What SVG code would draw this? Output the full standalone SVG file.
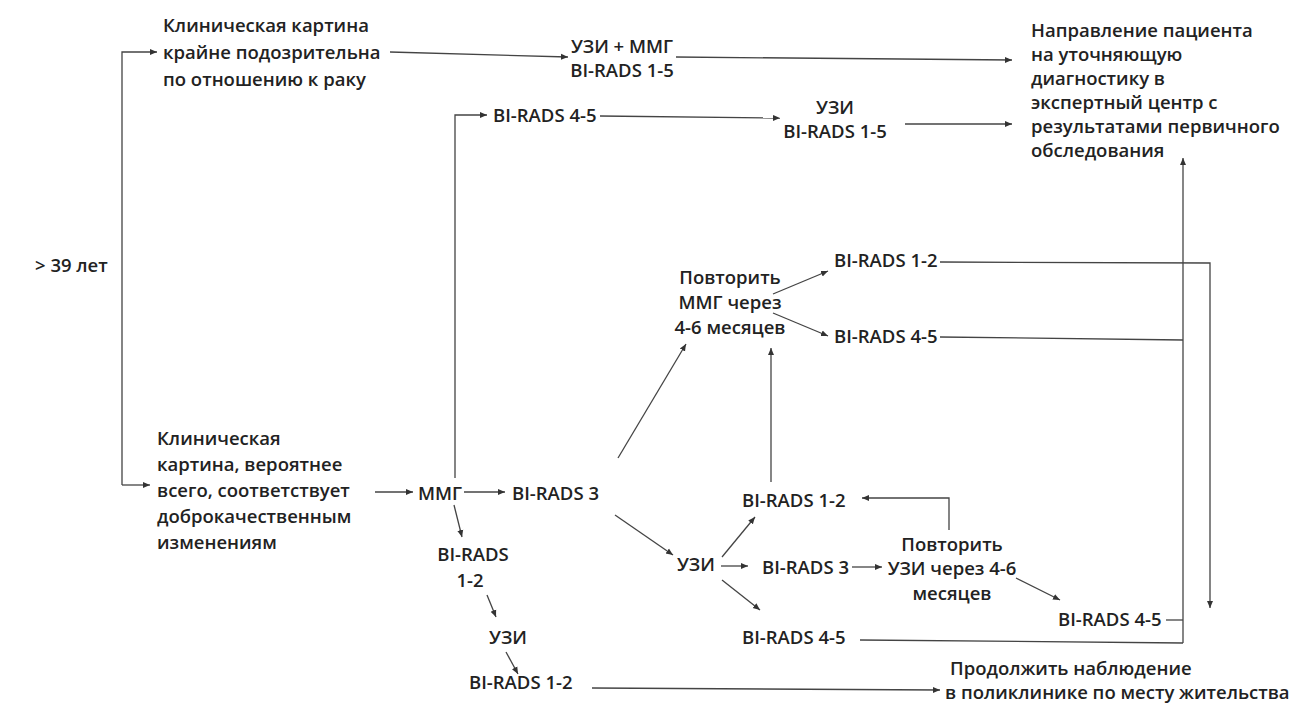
<svg xmlns="http://www.w3.org/2000/svg" width="1300" height="710" viewBox="0 0 1300 710">
<defs>
<marker id="ah" markerWidth="8" markerHeight="8" refX="7" refY="4" orient="auto" markerUnits="userSpaceOnUse">
<path d="M0,1 L7,4 L0,7 Z" fill="#333"/>
</marker>
<style>
text{font-family:"Open Sans","Liberation Sans",sans-serif;font-size:18.5px;font-weight:600;fill:#222}
.c{stroke:#444;stroke-width:1.3;fill:none}
.a{marker-end:url(#ah)}
</style>
</defs>
<rect width="1300" height="710" fill="#fff"/>
<g id="connectors">
<path class="c a" d="M122,485 L122,52 L157,52"/>
<path class="c a" d="M122,485 L150,485"/>
<path class="c a" d="M390,52 L568,57"/>
<path class="c a" d="M676,57 L1012,60"/>
<path class="c a" d="M455,478 L455,115 L487,115"/>
<path class="c a" d="M600,116 L780,118"/>
<path class="c a" d="M905,124 L1012,124"/>
<path class="c a" d="M1183,643 L1183,158"/>
<path class="c a" d="M940,262 L1210,263 L1210,608"/>
<path class="c" d="M940,337 L1183,340"/>
<path class="c a" d="M773,294 L828,271"/>
<path class="c a" d="M773,313 L828,336"/>
<path class="c a" d="M618,458 L686,344"/>
<path class="c a" d="M771,482 L771,348"/>
<path class="c a" d="M375,492 L413,492"/>
<path class="c a" d="M464,492 L505,492"/>
<path class="c a" d="M454,505 L462,537"/>
<path class="c a" d="M487,595 L496,617"/>
<path class="c a" d="M506,652 L518,674"/>
<path class="c a" d="M592,688 L940,690"/>
<path class="c a" d="M615,515 L673,555"/>
<path class="c a" d="M722,557 L755,517"/>
<path class="c a" d="M721,566 L748,566"/>
<path class="c a" d="M722,580 L760,610"/>
<path class="c a" d="M852,567 L882,567"/>
<path class="c a" d="M949,530 L949,498 L862,498"/>
<path class="c a" d="M1016,578 L1060,600"/>
<path class="c" d="M1166,620 L1183,620"/>
<path class="c" d="M860,640 L1183,643"/>
</g>
<g id="age"><text x="35" y="272">&gt; 39 лет</text></g>
<g id="suspicious">
<text x="163" y="32">Клиническая картина</text>
<text x="163" y="59">крайне подозрительна</text>
<text x="163" y="86">по отношению к раку</text>
</g>
<g id="us-mmg-15">
<text x="622" y="53" text-anchor="middle">УЗИ + ММГ</text>
<text x="622" y="77" text-anchor="middle">BI-RADS 1-5</text>
</g>
<g id="referral">
<text x="1031" y="37">Направление пациента</text>
<text x="1031" y="61">на уточняющую</text>
<text x="1031" y="85">диагностику в</text>
<text x="1031" y="109">экспертный центр с</text>
<text x="1031" y="133">результатами первичного</text>
<text x="1031" y="157">обследования</text>
</g>
<g id="benign">
<text x="157" y="445">Клиническая</text>
<text x="157" y="471">картина, вероятнее</text>
<text x="157" y="497">всего, соответствует</text>
<text x="157" y="523">доброкачественным</text>
<text x="157" y="549">изменениям</text>
</g>
<g id="mmg"><text x="418" y="500">ММГ</text></g>
<g id="br45-a"><text x="493" y="122">BI-RADS 4-5</text></g>
<g id="us-15">
<text x="835" y="114" text-anchor="middle">УЗИ</text>
<text x="835" y="138" text-anchor="middle">BI-RADS 1-5</text>
</g>
<g id="br3-a"><text x="512" y="500">BI-RADS 3</text></g>
<g id="br12-a">
<text x="473" y="561" text-anchor="middle">BI-RADS</text>
<text x="470" y="587" text-anchor="middle">1-2</text>
</g>
<g id="us-a"><text x="508" y="644" text-anchor="middle">УЗИ</text></g>
<g id="br12-b"><text x="469" y="689">BI-RADS 1-2</text></g>
<g id="repeat-mmg">
<text x="730" y="284" text-anchor="middle">Повторить</text>
<text x="730" y="309" text-anchor="middle">ММГ через</text>
<text x="730" y="334" text-anchor="middle">4-6 месяцев</text>
</g>
<g id="br12-c"><text x="834" y="267">BI-RADS 1-2</text></g>
<g id="br45-b"><text x="834" y="343">BI-RADS 4-5</text></g>
<g id="us-b"><text x="677" y="571">УЗИ</text></g>
<g id="br12-d"><text x="742" y="507">BI-RADS 1-2</text></g>
<g id="br3-b"><text x="762" y="574">BI-RADS 3</text></g>
<g id="br45-c"><text x="742" y="644">BI-RADS 4-5</text></g>
<g id="repeat-us">
<text x="952" y="551" text-anchor="middle">Повторить</text>
<text x="952" y="575" text-anchor="middle">УЗИ через 4-6</text>
<text x="952" y="600" text-anchor="middle">месяцев</text>
</g>
<g id="br45-d"><text x="1058" y="626">BI-RADS 4-5</text></g>
<g id="continue">
<text x="950" y="675">Продолжить наблюдение</text>
<text x="945" y="699">в поликлинике по месту жительства</text>
</g>
</svg>
